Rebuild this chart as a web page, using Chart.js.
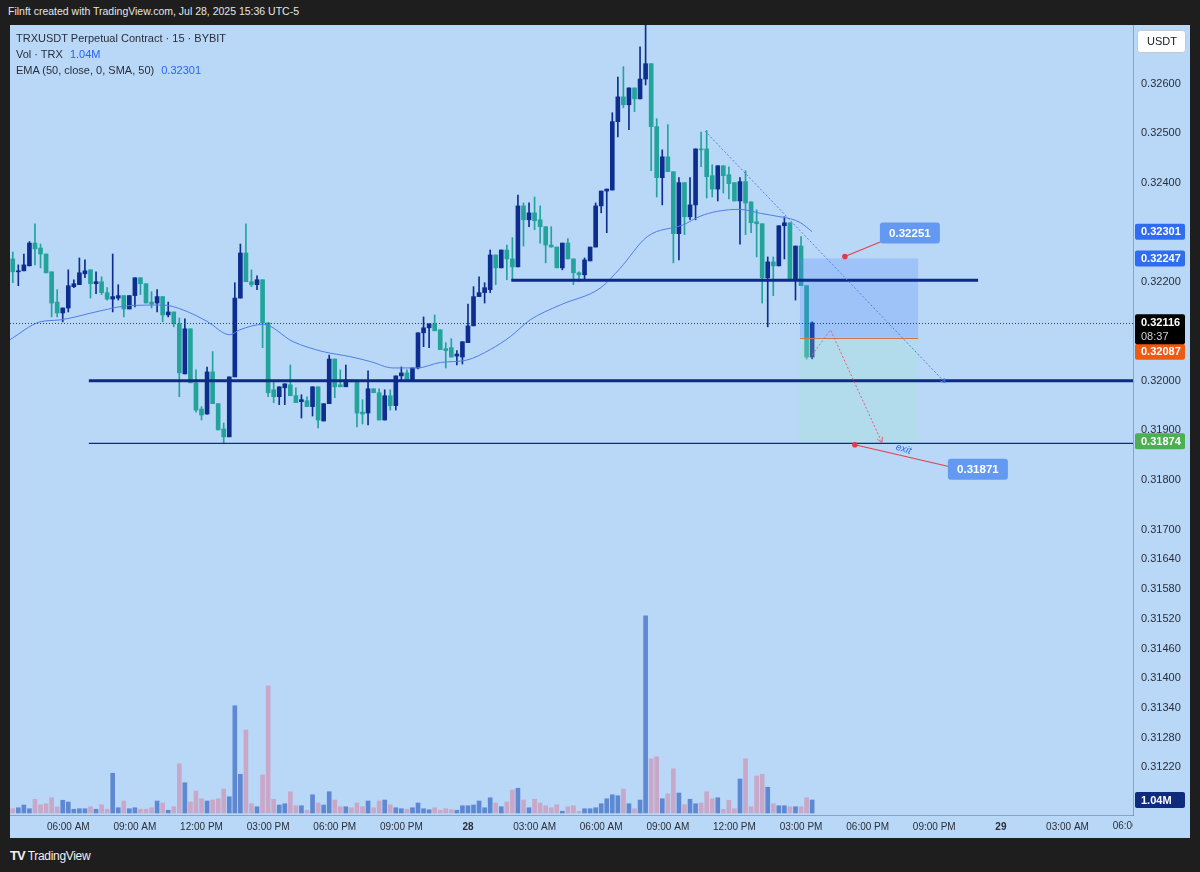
<!DOCTYPE html>
<html>
<head>
<meta charset="utf-8">
<script src="https://cdn.jsdelivr.net/npm/chart.js@4.4.1/dist/chart.umd.min.js"></script>
<style>
  html, body { margin: 0; padding: 0; width: 1200px; height: 872px; overflow: hidden; background: #1e1e1e; font-family: "Liberation Sans", Arial, sans-serif; }
  #topline { position: absolute; left: 8px; top: 5px; color: #e6e6e6; font-size: 10.5px; }
  #pane { position: absolute; left: 10px; top: 25px; width: 1180px; height: 813px; background: #b9d8f7; }
  #legend { position: absolute; left: 16px; top: 30px; font-size: 11px; line-height: 16px; color: #2a2e39; z-index: 2; }
  #legend .v { color: #2962ff; margin-left: 4px; }
  #brand { position: absolute; left: 10px; top: 848px; color: #f0f0f0; font-size: 12px; letter-spacing: -0.3px; }
  #brand b { font-size: 13px; font-weight: 900; letter-spacing: -1px; margin-right: 3px; }
  canvas { position: absolute; left: 0; top: 0; }
</style>
</head>
<body>
<div id="topline">Filnft created with TradingView.com, Jul 28, 2025 15:36 UTC-5</div>
<div id="pane">
  <canvas id="c" width="1180" height="813"></canvas>
</div>
<div id="legend">
  <div>TRXUSDT Perpetual Contract · 15 · BYBIT</div>
  <div>Vol · TRX <span class="v">1.04M</span></div>
  <div>EMA (50, close, 0, SMA, 50) <span class="v">0.32301</span></div>
</div>
<div id="brand"><b>TV</b>TradingView</div>

<script>
// --- DADOS (15m, 27-28 jul) ---
const opens = [0.32246,0.32220,0.32222,0.32232,0.32278,0.32268,0.32256,0.32220,0.32159,0.32137,
  0.32147,0.32190,0.32194,0.32216,0.32224,0.32196,0.32200,0.32178,0.32165,0.32167,
  0.32172,0.32145,0.32172,0.32208,0.32196,0.32159,0.32157,0.32170,0.32133,0.32139,
  0.32115,0.32014,0.32105,0.31996,0.31943,0.31933,0.32018,0.31954,0.31903,0.31887,
  0.32008,0.32167,0.32258,0.32200,0.32194,0.32204,0.32117,0.31982,0.31968,0.31986,
  0.31992,0.31970,0.31958,0.31960,0.31948,0.31988,0.31919,0.31954,0.32044,0.31992,
  0.31988,0.32002,0.32000,0.31937,0.31935,0.31984,0.31976,0.31921,0.31970,0.31950,
  0.32010,0.32016,0.32002,0.32026,0.32097,0.32107,0.32115,0.32103,0.32065,0.32067,
  0.32050,0.32048,0.32077,0.32111,0.32170,0.32178,0.32184,0.32254,0.32228,0.32264,
  0.32246,0.32230,0.32353,0.32325,0.32339,0.32325,0.32311,0.32274,0.32270,0.32228,
  0.32278,0.32246,0.32218,0.32214,0.32242,0.32270,0.32353,0.32383,0.32385,0.32523,
  0.32573,0.32557,0.32591,0.32569,0.32609,0.32640,0.32513,0.32410,0.32452,0.32422,
  0.32297,0.32400,0.32331,0.32355,0.32468,0.32468,0.32414,0.32387,0.32434,0.32416,
  0.32400,0.32363,0.32402,0.32361,0.32321,0.32317,0.32208,0.32240,0.32232,0.32313,
  0.32319,0.32206,0.32272,0.32192,0.32048];
const highs = [0.32260,0.32234,0.32256,0.32281,0.32317,0.32276,0.32256,0.32220,0.32184,0.32147,
  0.32224,0.32204,0.32248,0.32244,0.32224,0.32220,0.32210,0.32188,0.32256,0.32194,
  0.32172,0.32172,0.32208,0.32208,0.32196,0.32180,0.32184,0.32170,0.32159,0.32139,
  0.32127,0.32125,0.32105,0.32022,0.31948,0.32028,0.32059,0.31954,0.31915,0.32008,
  0.32198,0.32276,0.32317,0.32224,0.32212,0.32204,0.32117,0.31998,0.31988,0.31994,
  0.32032,0.31986,0.31972,0.31968,0.31988,0.31988,0.31954,0.32052,0.32044,0.32022,
  0.32032,0.32002,0.32000,0.31962,0.32020,0.31984,0.31984,0.31982,0.31982,0.32010,
  0.32028,0.32022,0.32026,0.32097,0.32129,0.32115,0.32133,0.32103,0.32077,0.32085,
  0.32061,0.32079,0.32155,0.32190,0.32210,0.32198,0.32264,0.32254,0.32264,0.32274,
  0.32289,0.32375,0.32359,0.32359,0.32371,0.32353,0.32311,0.32311,0.32270,0.32278,
  0.32287,0.32246,0.32220,0.32248,0.32270,0.32359,0.32383,0.32387,0.32541,0.32613,
  0.32634,0.32591,0.32591,0.32674,0.32718,0.32640,0.32529,0.32466,0.32517,0.32422,
  0.32410,0.32400,0.32410,0.32468,0.32502,0.32505,0.32436,0.32434,0.32434,0.32432,
  0.32400,0.32410,0.32424,0.32361,0.32345,0.32317,0.32250,0.32250,0.32313,0.32331,
  0.32319,0.32272,0.32291,0.32192,0.32119];
const lows = [0.32198,0.32192,0.32222,0.32232,0.32234,0.32228,0.32218,0.32129,0.32129,0.32119,
  0.32139,0.32188,0.32194,0.32208,0.32167,0.32176,0.32174,0.32163,0.32139,0.32163,
  0.32129,0.32145,0.32149,0.32174,0.32157,0.32147,0.32139,0.32119,0.32129,0.32109,
  0.31968,0.32014,0.31996,0.31937,0.31921,0.31933,0.31954,0.31901,0.31873,0.31887,
  0.32008,0.32167,0.32200,0.32190,0.32184,0.32067,0.31968,0.31956,0.31952,0.31952,
  0.31970,0.31956,0.31925,0.31948,0.31929,0.31905,0.31919,0.31954,0.31966,0.31988,
  0.31988,0.31998,0.31907,0.31913,0.31911,0.31976,0.31921,0.31921,0.31941,0.31941,
  0.32002,0.32002,0.32002,0.32024,0.32069,0.32067,0.32101,0.32063,0.32026,0.32048,
  0.32032,0.32034,0.32077,0.32111,0.32170,0.32157,0.32178,0.32194,0.32228,0.32204,
  0.32204,0.32230,0.32272,0.32311,0.32305,0.32278,0.32238,0.32270,0.32228,0.32224,
  0.32246,0.32194,0.32200,0.32204,0.32242,0.32270,0.32339,0.32299,0.32385,0.32492,
  0.32551,0.32507,0.32543,0.32569,0.32597,0.32424,0.32371,0.32355,0.32422,0.32238,
  0.32244,0.32295,0.32325,0.32325,0.32432,0.32369,0.32371,0.32363,0.32379,0.32367,
  0.32363,0.32276,0.32295,0.32299,0.32250,0.32157,0.32109,0.32172,0.32232,0.32246,
  0.32206,0.32163,0.32192,0.32044,0.32044];
const closes = [0.32220,0.32222,0.32234,0.32278,0.32266,0.32256,0.32218,0.32157,0.32137,0.32147,
  0.32192,0.32196,0.32218,0.32222,0.32196,0.32200,0.32178,0.32165,0.32170,0.32172,
  0.32145,0.32172,0.32208,0.32196,0.32157,0.32155,0.32170,0.32133,0.32139,0.32115,
  0.32016,0.32105,0.31996,0.31941,0.31931,0.32018,0.31954,0.31901,0.31887,0.32008,
  0.32167,0.32258,0.32200,0.32194,0.32204,0.32117,0.31976,0.31968,0.31988,0.31994,
  0.31970,0.31956,0.31962,0.31948,0.31988,0.31921,0.31954,0.32044,0.31988,0.31988,
  0.32002,0.31998,0.31935,0.31933,0.31984,0.31976,0.31921,0.31970,0.31950,0.32010,
  0.32016,0.32002,0.32026,0.32097,0.32107,0.32115,0.32101,0.32063,0.32061,0.32048,
  0.32054,0.32079,0.32111,0.32170,0.32178,0.32188,0.32254,0.32228,0.32264,0.32246,
  0.32230,0.32353,0.32325,0.32339,0.32323,0.32311,0.32274,0.32270,0.32228,0.32278,
  0.32246,0.32218,0.32214,0.32244,0.32270,0.32353,0.32383,0.32387,0.32523,0.32573,
  0.32557,0.32591,0.32569,0.32609,0.32640,0.32513,0.32410,0.32452,0.32422,0.32297,
  0.32400,0.32331,0.32355,0.32468,0.32466,0.32412,0.32387,0.32434,0.32414,0.32398,
  0.32363,0.32402,0.32359,0.32319,0.32317,0.32208,0.32240,0.32232,0.32313,0.32319,
  0.32206,0.32272,0.32192,0.32048,0.32117];
// volume em milhões de TRX
const volumes = [0.34,0.42,0.64,0.34,1.10,0.66,0.74,1.22,0.48,1.02,
  0.88,0.30,0.34,0.34,0.50,0.30,0.66,0.30,3.18,0.42,
  0.96,0.34,0.42,0.30,0.30,0.42,0.96,0.80,0.22,0.50,
  3.94,2.42,0.88,1.76,1.14,0.96,1.04,1.14,1.92,1.30,
  8.58,3.10,6.64,0.74,0.50,3.04,10.18,1.10,0.64,0.74,
  1.70,0.58,0.58,0.22,1.46,0.80,0.64,1.70,1.04,0.50,
  0.50,0.42,0.80,0.50,0.96,0.42,0.96,1.04,0.66,0.42,
  0.34,0.30,0.42,0.80,0.34,0.26,0.42,0.22,0.34,0.26,
  0.22,0.58,0.58,0.64,0.96,0.42,1.22,0.80,0.50,0.88,
  1.84,1.98,1.04,0.42,1.10,0.80,0.58,0.42,0.66,0.14,
  0.50,0.58,0.14,0.34,0.34,0.42,0.74,1.14,1.46,1.38,
  1.92,0.74,0.34,1.04,15.78,4.34,4.50,1.14,1.54,3.54,
  1.60,0.66,1.10,0.74,0.80,1.70,1.14,1.22,0.30,1.02,
  0.34,2.72,4.34,0.50,2.96,3.10,2.06,0.74,0.58,0.58,
  0.50,0.50,0.50,1.22,1.04];
// EMA (índice do candle, preço)
const emaIdx = [-0.5,4.9,8.5,15.7,21.1,27.1,30.7,35,39.1,40.9,45.1,50.5,55.9,60.7,64.4,68.5,72.8,77,
  81.8,86,89.6,93.2,98.6,105.8,109.4,114.3,120.8,123.8,126.9,131,134.7,137.7,140.1,141.9,144];
const emaVal = [0.32083,0.32119,0.32123,0.32141,0.32152,0.32153,0.32143,0.32120,0.32093,0.32103,0.32114,
  0.32079,0.32059,0.32049,0.32039,0.32026,0.32026,0.32037,0.32042,0.32063,0.32089,0.32123,0.32153,
  0.32187,0.32227,0.32291,0.32315,0.32332,0.32342,0.32346,0.32338,0.32332,0.32327,0.32319,0.32301];
// eixo de tempo (candle 0 = 27 jul 03:30)
const timeTicks = [10,22,34,46,58,70,82,94,106,118,130,142,154,166,178,190];
const timeLabels = ['06:00 AM','09:00 AM','12:00 PM','03:00 PM','06:00 PM','09:00 PM','28',
  '03:00 AM','06:00 AM','09:00 AM','12:00 PM','03:00 PM','06:00 PM','09:00 PM','29','03:00 AM'];
// rótulo cortado na borda direita
const edgeTick = 202;
const edgeLabel = '06:00 AM';
const priceTicks = [0.326,0.325,0.324,0.322,0.320,0.319,0.318,0.317,0.3164,0.3158,0.3152,0.3146,0.314,0.3134,0.3128,0.3122];

// desenhos do usuário (em preço / índice de candle)
const levels = [
  { price: 0.32000, from: 13.7, to: null, width: 3 },
  { price: 0.32203, from: 89.8, to: 173.9, width: 3 },
  { price: 0.31874, from: 13.7, to: null, width: 1.3 }
];
const lastPrice = 0.32116;
const position = { from: 141.8, to: 163.1, stop: 0.32247, entry: 0.32087, target: 0.31874 };
const trendIdx = [124.7, 168.0];
const trendVal = [0.32504, 0.31996];
const pathIdx = [144, 147.3, 156.6];
const pathVal = [0.32052, 0.32103, 0.31875];
const callouts = [
  { idx: 149.9, price: 0.32251, text: '0.32251' },
  { idx: 151.7, price: 0.31871, text: '0.31871' }
];

// --- CORES ---
const UP = '#0d2e8e';
const DOWN = '#22a39c';
const VOL_UP = '#5f88d2';
const VOL_DOWN = '#c8a7c8';
const FONT = '"Liberation Sans", Arial, sans-serif';

const idx = closes.map((_, i) => i);
const isUp = closes.map((c, i) => c >= opens[i]);
const candleColors = isUp.map(u => u ? UP : DOWN);

// caixas de preço no eixo direito (estilo)
const axisTags = [
  { price: 0.32301, text: '0.32301', bg: '#2f6cf2', shift: 0 },
  { price: 0.32247, text: '0.32247', bg: '#2f6cf2', shift: 0 },
  { price: 0.32087, text: '0.32087', bg: '#ee5a12', shift: 14 },
  { price: 0.31874, text: '0.31874', bg: '#4caf50', shift: -2 }
];
const calloutStyle = [
  { dx: 35, dy: -34, ax: 4, ay: 18 },
  { dx: 93, dy: 14, ax: 2, ay: 8 }
];

function roundRect(ctx, x, y, w, h, r) {
  ctx.beginPath();
  ctx.moveTo(x + r, y);
  ctx.arcTo(x + w, y, x + w, y + h, r);
  ctx.arcTo(x + w, y + h, x, y + h, r);
  ctx.arcTo(x, y + h, x, y, r);
  ctx.arcTo(x, y, x + w, y, r);
  ctx.closePath();
}

function arrowHead(ctx, x0, y0, x1, y1, size) {
  const a = Math.atan2(y1 - y0, x1 - x0);
  ctx.beginPath();
  ctx.moveTo(x1 - size * Math.cos(a - 0.5), y1 - size * Math.sin(a - 0.5));
  ctx.lineTo(x1, y1);
  ctx.lineTo(x1 - size * Math.cos(a + 0.5), y1 - size * Math.sin(a + 0.5));
  ctx.stroke();
}

const overlay = {
  id: 'overlay',
  afterDatasetsDraw(chart) {
    const { ctx, chartArea: a, scales: { x, y } } = chart;
    const px = v => x.getPixelForValue(v);
    const py = v => y.getPixelForValue(v);
    ctx.save();
    ctx.beginPath();
    ctx.rect(a.left, a.top, a.right - a.left, a.bottom - a.top);
    ctx.clip();

    // ferramenta de posição (short)
    const bx0 = px(position.from), bx1 = px(position.to);
    ctx.fillStyle = 'rgba(80,130,255,0.25)';
    ctx.fillRect(bx0, py(position.stop), bx1 - bx0, py(position.entry) - py(position.stop));
    ctx.fillStyle = 'rgba(160,225,205,0.28)';
    ctx.fillRect(bx0, py(position.entry), bx1 - bx0, py(position.target) - py(position.entry));
    ctx.strokeStyle = '#c8784a';
    ctx.lineWidth = 1;
    ctx.beginPath();
    ctx.moveTo(bx0, Math.round(py(position.entry)) + 0.5);
    ctx.lineTo(bx1, Math.round(py(position.entry)) + 0.5);
    ctx.stroke();

    // níveis horizontais
    ctx.strokeStyle = '#0d2a86';
    levels.forEach(l => {
      ctx.lineWidth = l.width;
      const yy = py(l.price);
      ctx.beginPath();
      ctx.moveTo(px(l.from), yy);
      ctx.lineTo(l.to === null ? a.right : px(l.to), yy);
      ctx.stroke();
    });

    // último preço (pontilhado)
    ctx.strokeStyle = '#3a3f4a';
    ctx.lineWidth = 1;
    ctx.setLineDash([1, 2]);
    const ly = Math.round(py(lastPrice)) + 0.5;
    ctx.beginPath();
    ctx.moveTo(a.left, ly);
    ctx.lineTo(a.right, ly);
    ctx.stroke();

    // linha de tendência
    ctx.strokeStyle = '#4d7fe6';
    ctx.setLineDash([2, 2]);
    ctx.beginPath();
    ctx.moveTo(px(trendIdx[0]), py(trendVal[0]));
    ctx.lineTo(px(trendIdx[1]), py(trendVal[1]));
    ctx.stroke();
    ctx.setLineDash([]);
    arrowHead(ctx, px(trendIdx[0]), py(trendVal[0]), px(trendIdx[1]), py(trendVal[1]), 5);

    // projeção rosa
    ctx.strokeStyle = '#e0607e';
    ctx.setLineDash([2, 2]);
    ctx.beginPath();
    pathIdx.forEach((v, k) => {
      if (k === 0) ctx.moveTo(px(v), py(pathVal[k]));
      else ctx.lineTo(px(v), py(pathVal[k]));
    });
    ctx.stroke();
    ctx.setLineDash([]);
    const n = pathIdx.length - 1;
    arrowHead(ctx, px(pathIdx[n - 1]), py(pathVal[n - 1]), px(pathIdx[n]), py(pathVal[n]), 6);

    // texto "exit"
    ctx.save();
    ctx.translate(px(pathIdx[n]) + 14, py(pathVal[n]) + 4);
    ctx.rotate(0.3);
    ctx.fillStyle = '#2f66e8';
    ctx.font = 'italic 10px ' + FONT;
    ctx.textBaseline = 'middle';
    ctx.fillText('exit', 0, 0);
    ctx.restore();

    // balões de preço
    callouts.forEach((c, k) => {
      const s = calloutStyle[k];
      const dx = px(c.idx), dy = py(c.price);
      const bx = dx + s.dx, by = dy + s.dy;
      ctx.strokeStyle = '#e0404c';
      ctx.lineWidth = 1.2;
      ctx.beginPath();
      ctx.moveTo(dx, dy);
      ctx.lineTo(bx + s.ax, by + s.ay);
      ctx.stroke();
      ctx.fillStyle = '#e53945';
      ctx.beginPath();
      ctx.arc(dx, dy, 2.8, 0, Math.PI * 2);
      ctx.fill();
      ctx.fillStyle = '#6499f2';
      roundRect(ctx, bx, by, 60, 21, 3);
      ctx.fill();
      ctx.fillStyle = '#ffffff';
      ctx.font = 'bold 11.5px ' + FONT;
      ctx.textAlign = 'center';
      ctx.textBaseline = 'middle';
      ctx.fillText(c.text, bx + 30, by + 11);
    });
    ctx.restore();
  },
  afterDraw(chart) {
    const { ctx, chartArea: a, scales: { x, y, yVol } } = chart;
    ctx.save();

    // rótulo de tempo cortado pela borda do eixo de preço
    ctx.save();
    ctx.beginPath();
    ctx.rect(a.left, a.bottom, a.right - a.left, 23);
    ctx.clip();
    ctx.fillStyle = '#2a2e39';
    ctx.font = '10px ' + FONT;
    ctx.textAlign = 'center';
    ctx.textBaseline = 'top';
    ctx.fillText(edgeLabel, x.getPixelForValue(edgeTick), a.bottom + 6);
    ctx.restore();

    ctx.font = 'bold 11px ' + FONT;
    ctx.textBaseline = 'middle';
    ctx.textAlign = 'left';
    const tx = a.right + 2;

    axisTags.forEach(t => {
      const yy = y.getPixelForValue(t.price) + t.shift;
      ctx.fillStyle = t.bg;
      roundRect(ctx, tx, yy - 8, 50, 16, 2);
      ctx.fill();
      ctx.fillStyle = '#ffffff';
      ctx.fillText(t.text, tx + 6, yy + 0.5);
    });

    // último preço + contagem regressiva
    const ly = y.getPixelForValue(lastPrice);
    ctx.fillStyle = '#000000';
    roundRect(ctx, tx, ly - 9, 50, 30, 2);
    ctx.fill();
    ctx.fillStyle = '#ffffff';
    ctx.fillText('0.32116', tx + 6, ly);
    ctx.fillStyle = '#d0d0d0';
    ctx.font = '11px ' + FONT;
    ctx.fillText('08:37', tx + 6, ly + 14);

    // volume atual
    const vy = yVol.getPixelForValue(volumes[volumes.length - 1]);
    ctx.fillStyle = '#0e2b7c';
    roundRect(ctx, tx, vy - 8, 50, 16, 2);
    ctx.fill();
    ctx.fillStyle = '#ffffff';
    ctx.font = 'bold 11px ' + FONT;
    ctx.fillText('1.04M', tx + 6, vy + 0.5);

    // caixa da moeda
    ctx.fillStyle = '#ffffff';
    ctx.strokeStyle = '#c0c8d4';
    ctx.lineWidth = 1;
    roundRect(ctx, tx + 2.5, 5.5, 48, 22, 3);
    ctx.fill();
    ctx.stroke();
    ctx.fillStyle = '#131722';
    ctx.font = '11px ' + FONT;
    ctx.fillText('USDT', tx + 12, 17);
    ctx.restore();
  }
};

new Chart(document.getElementById('c'), {
  type: 'bar',
  data: {
    datasets: [
      {
        label: 'Vol',
        yAxisID: 'yVol',
        data: volumes.map((v, i) => ({ x: i, y: v })),
        backgroundColor: isUp.map(u => u ? VOL_UP : VOL_DOWN),
        barThickness: 4,
        grouped: false,
        order: 4
      },
      {
        label: 'Wick',
        yAxisID: 'y',
        data: idx.map(i => ({ x: i, y: [lows[i], highs[i]] })),
        backgroundColor: candleColors,
        barThickness: 1,
        grouped: false,
        order: 3
      },
      {
        label: 'Body',
        yAxisID: 'y',
        data: idx.map(i => ({ x: i, y: [Math.min(opens[i], closes[i]), Math.max(opens[i], closes[i])] })),
        backgroundColor: candleColors,
        barThickness: 4,
        minBarLength: 1,
        grouped: false,
        order: 2
      },
      {
        type: 'line',
        label: 'EMA',
        yAxisID: 'y',
        data: emaIdx.map((v, k) => ({ x: v, y: emaVal[k] })),
        borderColor: '#4f7de6',
        borderWidth: 1,
        pointRadius: 0,
        cubicInterpolationMode: 'monotone',
        order: 1
      }
    ]
  },
  options: {
    responsive: false,
    animation: false,
    devicePixelRatio: 1,
    layout: { padding: 0 },
    plugins: { legend: { display: false }, tooltip: { enabled: false } },
    scales: {
      x: {
        type: 'linear',
        min: -0.5,
        max: 201.8,
        offset: false,
        grid: { display: false, drawTicks: false },
        border: { display: true, color: 'rgba(80,100,130,0.45)' },
        afterBuildTicks: s => { s.ticks = timeTicks.map(v => ({ value: v })); },
        afterFit: s => { s.height = 23; s.paddingLeft = 0; s.paddingRight = 0; },
        ticks: {
          autoSkip: false,
          maxRotation: 0,
          padding: 6,
          color: '#2a2e39',
          font: c => ({ family: FONT, size: 10, weight: (timeLabels[c.index] === '28' || timeLabels[c.index] === '29') ? 'bold' : 'normal' }),
          callback: (v, i) => timeLabels[i]
        }
      },
      y: {
        position: 'right',
        min: 0.31124,
        max: 0.32718,
        grid: { display: false, drawTicks: false },
        border: { display: true, color: 'rgba(80,100,130,0.45)' },
        afterBuildTicks: s => { s.ticks = priceTicks.map(v => ({ value: v })); },
        afterFit: s => { s.width = 57; s.paddingTop = 0; s.paddingBottom = 0; },
        ticks: {
          padding: 8,
          color: '#2a2e39',
          font: { family: FONT, size: 11 },
          callback: v => v.toFixed(5)
        }
      },
      yVol: {
        display: false,
        min: -0.16,
        max: 63.04
      }
    }
  },
  plugins: [overlay]
});
</script>
</body>
</html>
